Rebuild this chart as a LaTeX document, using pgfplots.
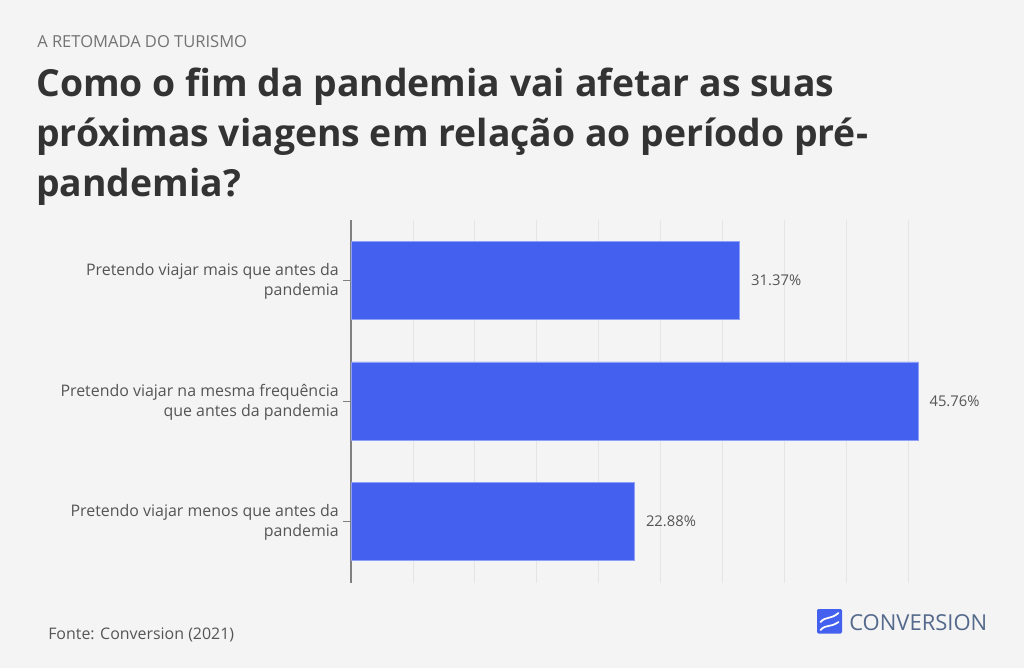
\documentclass[border=0pt]{standalone}
\usepackage{pgfplots}
\usepackage{fontspec}
\pgfplotsset{compat=1.18}
\setmainfont{Open Sans}
\definecolor{bg}{HTML}{F4F4F4}
\definecolor{barblue}{HTML}{4361EE}
\definecolor{ink}{HTML}{333333}
\definecolor{lab}{HTML}{555555}
\definecolor{logotxt}{HTML}{54698C}
\begin{document}
\begin{tikzpicture}[x=0.75pt,y=0.75pt]
\fill[bg] (0,0) rectangle (1024,668);
\node[anchor=base west,inner sep=0pt,text=black!55,font=\fontsize{12.4pt}{14pt}\selectfont] at (37,620.5) {A RETOMADA DO TURISMO};
\node[anchor=north west,inner sep=0pt,text=ink,align=left,font=\fontsize{28pt}{37.5pt}\selectfont\bfseries] at (36,600) {Como o fim da pandemia vai afetar as suas\\próximas viagens em relação ao período pré-\\pandemia?};
\begin{axis}[
  at={(263.25pt,63.75pt)}, anchor=south west,
  scale only axis, width=434.25pt, height=272.25pt,
  xmin=0, xmax=46.72, ymin=-0.5, ymax=2.51, y dir=reverse,
  axis y line=left, axis x line=bottom,
  y axis line style={draw=gray,line width=1pt,-},
  x axis line style={draw=none,-},
  xbar, bar width=58.5pt, bar shift=0pt,
  xtick={5,10,...,45}, xticklabels={}, xmajorgrids,
  x tick style={draw=none},
  grid style={draw=black!10,line width=0.7pt},
  ytick={0,1,2},
  yticklabels={{Pretendo viajar mais que antes da\\pandemia},{Pretendo viajar na mesma frequência\\que antes da pandemia},{Pretendo viajar menos que antes da\\pandemia}},
  yticklabel style={align=right,font=\fontsize{11.95pt}{15pt}\selectfont,text=lab,inner sep=0pt,xshift=-3pt,yshift=-0.7pt},
  major tick length=6pt,
  y tick style={draw=gray,line width=0.6pt},
  tick align=outside,
  clip=false,
  nodes near coords={\pgfmathprintnumber[fixed,fixed zerofill,precision=2,assume math mode=true]{\pgfplotspointmeta}\%},
  point meta=x,
  nodes near coords style={font=\fontsize{11.1pt}{13pt}\selectfont,text=lab,anchor=west,xshift=5pt},
]
\addplot[fill=barblue,draw=barblue!60!white,line width=0.5pt] coordinates {(31.37,0) (45.76,1) (22.88,2)};
\end{axis}
\node[anchor=base west,inner sep=0pt,text=lab,font=\fontsize{11.95pt}{14pt}\selectfont] at (48,28.5) {Fonte: Conversion (2021)};
\fill[barblue,rounded corners=1pt] (817,34.5) rectangle (842,59);
\draw[white,line width=1.3pt,line cap=round] (820.5,46) .. controls (826,52) and (830,48) .. (838.5,55);
\draw[white,line width=1.3pt,line cap=round] (820.5,38) .. controls (826,44) and (830,40) .. (838.5,46);
\node[anchor=base west,inner sep=0pt,text=logotxt,font=\fontsize{16.5pt}{18pt}\selectfont] at (849,38) {CONVERSION};
\end{tikzpicture}
\end{document}
